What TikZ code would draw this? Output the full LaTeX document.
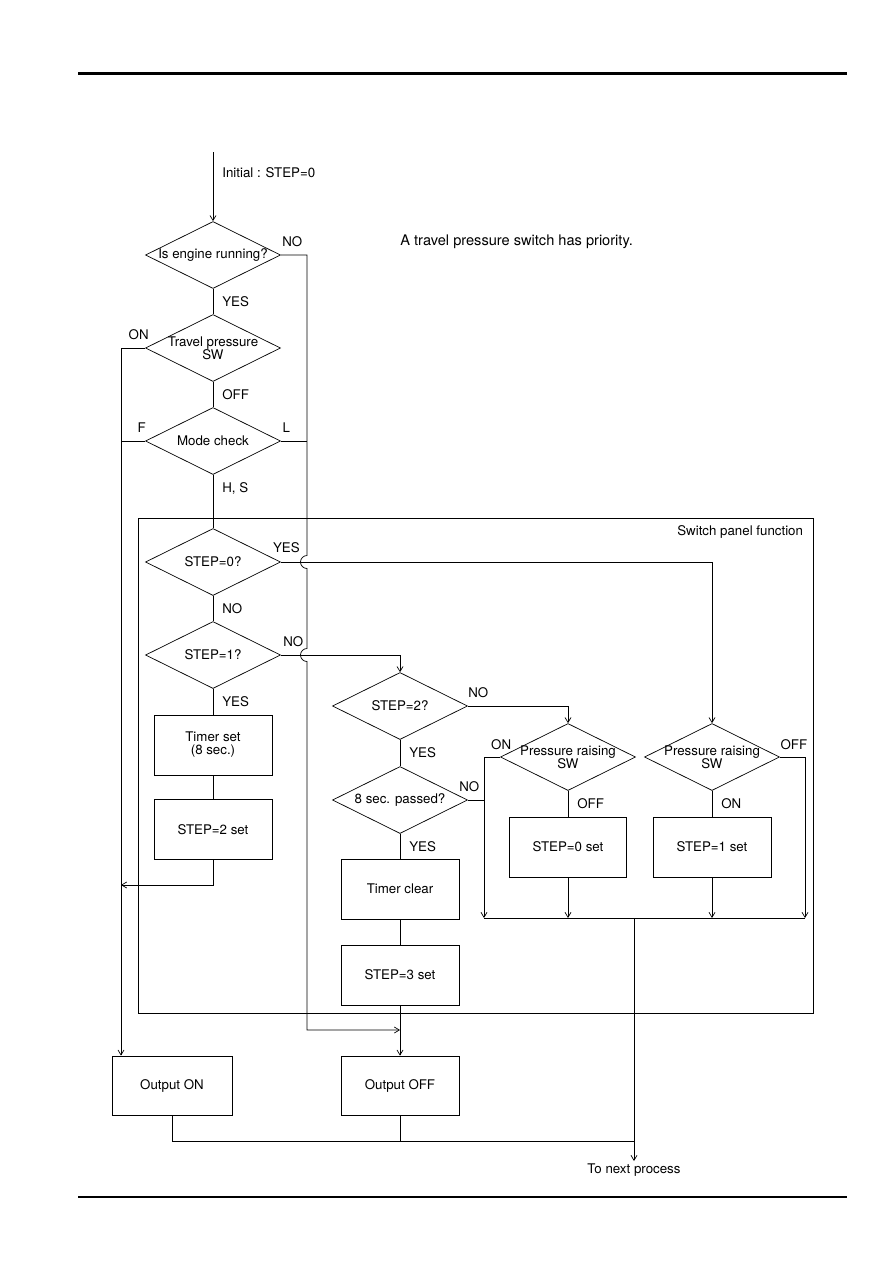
\documentclass[tikz,border=0pt]{standalone}
\usepackage{fontspec}
\setmainfont{TeX Gyre Heros}
\usetikzlibrary{shapes.geometric,arrows.meta}

\tikzset{
    decision/.style={diamond, draw, aspect=2, inner sep=0pt,
        minimum width=135pt, minimum height=67pt,
        label={[align=center]center:#1}},
    process/.style={rectangle, draw, align=center,
        minimum width=118pt, minimum height=60pt},
    lab/.style={anchor=west, inner sep=0pt, xshift=9pt},
    side/.style={anchor=south, inner sep=0pt, yshift=8pt},
}

\begin{document}
\begin{tikzpicture}[x=1pt, y=-1pt, >={Straight Barb[length=5pt,width=6pt]},
        line width=0.7pt, font=\fontsize{13.3}{13}\selectfont]
        \useasboundingbox (0,0) rectangle (893,1263);

        % Righe di pagina
        \draw[line width=3pt] (78,73) -- (847,73);
        \draw[line width=2.5pt] (78,1197) -- (847,1197);

        % Nota
        \node[anchor=west, inner sep=0pt, font=\fontsize{14.6}{16}\selectfont] (note) at (400,242) {A travel pressure switch has priority.};

        % Riquadro del pannello
        \node[draw, minimum width=675pt, minimum height=495pt] (panel) at (475.5,765.5) {};
        \node[anchor=north east, inner sep=0pt] (paneltitle) at ([shift={(-10pt,-8pt)}]panel.north east) {Switch panel function};

        % Colonna sinistra
        \coordinate (start) at (213,152);
        \node[decision={Is engine running?}] (eng) at (213,255) {};
        \node[decision={Travel pressure\\SW}] (trav) at (213,348) {};
        \node[decision={Mode check}] (mode) at (213,441) {};
        \node[decision={STEP=0?}] (st0) at (213,562) {};
        \node[decision={STEP=1?}] (st1) at (213,655) {};
        \node[process] (tset) at (213,745) {Timer set\\(8 sec.)};
        \node[process] (set2) at (213,829.5) {STEP=2 set};

        % Colonna centrale
        \node[decision={STEP=2?}] (st2) at (400,706) {};
        \node[decision={8 sec. passed?}] (pass) at (400,800) {};
        \node[process] (tclr) at (400,889) {Timer clear};
        \node[process] (set3) at (400,975) {STEP=3 set};

        % Colonna destra
        \node[decision={Pressure raising\\SW}] (pra) at (568,757) {};
        \node[decision={Pressure raising\\SW}] (prb) at (712,757) {};
        \node[process, minimum width=117pt] (set0) at (568,847) {STEP=0 set};
        \node[process] (set1) at (712,847) {STEP=1 set};

        % Uscite
        \node[process, minimum width=120pt, minimum height=59pt] (outon) at (172,1085.5) {Output ON};
        \node[process, minimum height=59pt] (outoff) at (400,1085.5) {Output OFF};
        \node[anchor=north, inner sep=2pt] (next) at (634,1161) {To next process};

        % Punti delle linee comuni
        \coordinate (onbus) at (121,348);
        \coordinate (onin) at (121,885);
        \coordinate (nobus) at (307,255);
        \coordinate (hopA) at (307,562);
        \coordinate (hopB) at (307,655);
        \coordinate (offin) at (400,1030);
        \coordinate (mergeL) at (484,918);
        \coordinate (mergeR) at (805,918);
        \coordinate (outbus) at (634,1141);

        % Flusso principale
        \draw[->] (start) -- (eng.north) node[lab, pos=0.3] {Initial : STEP=0};
        \draw (eng.south) -- (trav.north) node[lab, midway] {YES};
        \draw (trav.south) -- (mode.north) node[lab, midway] {OFF};
        \draw (mode.south) -- (st0.north) node[lab, pos=0.25] {H, S};
        \draw (st0.south) -- (st1.north) node[lab, midway] {NO};
        \draw (st1.south) -- (tset.north) node[lab, midway] {YES};
        \draw (tset.south) -- (set2.north);
        \draw[->] (set2.south) |- (onin);

        % Linea ON verso Output ON
        \draw[->] (trav.west) node[side, xshift=-6.5pt] {ON} -- (onbus) -- (onbus |- outon.north);
        \draw (mode.west) node[side, xshift=-3.5pt] {F} -- (onbus |- mode.west);

        % Linea NO verso Output OFF (con salti)
        \draw[->] (eng.east) node[side, xshift=11.5pt] {NO} -- (nobus)
            -- ([yshift=6.5pt]hopA) arc[start angle=90, end angle=270, radius=6.5pt]
            -- ([yshift=6.5pt]hopB) arc[start angle=90, end angle=270, radius=6.5pt]
            -- (nobus |- offin) -- (offin);
        \draw (mode.east) node[side, xshift=5.5pt] {L} -- (nobus |- mode.east);

        % Rami dello STEP
        \draw[->] (st0.east) node[side, xshift=5.5pt, yshift=1pt] {YES} -| (prb.north);
        \draw[->] (st1.east) node[side, xshift=12.5pt] {NO} -| (st2.north);
        \draw[->] (st2.east) node[side, xshift=10.5pt] {NO} -| (pra.north);
        \draw (st2.south) -- (pass.north) node[lab, midway] {YES};
        \draw (pass.south) -- (tclr.north) node[lab, midway] {YES};
        \draw (tclr.south) -- (set3.north);
        \draw[->] (set3.south) -- (outoff.north);

        % Interruttore di aumento pressione
        \draw (pass.east) node[side, xshift=1.5pt] {NO} -- (mergeL |- pass.east);
        \draw[->] (pra.west) node[side, xshift=1pt, yshift=-1pt] {ON} -| (mergeL);
        \draw[->] (prb.east) node[side, xshift=14pt, yshift=-1pt] {OFF} -| (mergeR);
        \draw (pra.south) -- (set0.north) node[lab, midway] {OFF};
        \draw (prb.south) -- (set1.north) node[lab, midway] {ON};
        \draw[->] (set0.south) -- (set0.south |- mergeL);
        \draw[->] (set1.south) -- (set1.south |- mergeL);
        \draw (mergeL) -- (mergeR);

        % Verso il processo successivo
        \draw[->] (mergeL -| outbus) -- (next.north);
        \draw (outon.south) |- (outbus);
        \draw (outoff.south) -- (outoff.south |- outbus);

    \end{tikzpicture}
\end{document}
